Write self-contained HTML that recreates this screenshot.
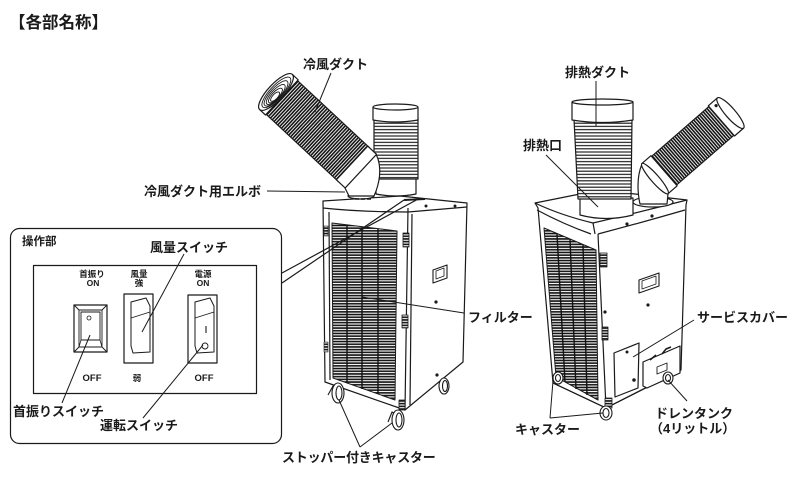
<!DOCTYPE html>
<html><head><meta charset="utf-8">
<style>
html,body{margin:0;padding:0;background:#fff;}
svg{display:block;}
text{font-family:"Liberation Sans","Noto Sans CJK JP",sans-serif;font-weight:bold;fill:#1a1a1a;}
</style></head>
<body>
<svg width="800" height="480" viewBox="0 0 800 480" xmlns="http://www.w3.org/2000/svg">
<defs>
  <pattern id="grill" width="4" height="2.7" patternUnits="userSpaceOnUse">
    <rect width="4" height="2.7" fill="#fff"/>
    <line x1="0" y1="1.35" x2="4" y2="1.35" stroke="#111" stroke-width="1.6"/>
  </pattern>
  <pattern id="hl2" width="4" height="3.2" patternUnits="userSpaceOnUse">
    <rect width="4" height="3.2" fill="#fff"/>
    <line x1="0" y1="1.6" x2="4" y2="1.6" stroke="#222" stroke-width="1.2"/>
  </pattern>
  <pattern id="rings" width="2.5" height="4" patternUnits="userSpaceOnUse">
    <rect width="2.5" height="4" fill="#fff"/>
    <line x1="1.25" y1="0" x2="1.25" y2="4" stroke="#111" stroke-width="1.6"/>
  </pattern>
</defs>

<!-- Title -->
<text x="9" y="28" font-size="16.5">【各部名称】</text>

<g fill="none" stroke="#1a1a1a" stroke-width="1.2" stroke-linejoin="round">

<!-- ================= LEFT UNIT ================= -->
<path d="M323,201 L400,196 L467,203 L463,362 L405,410 L325,382 Z" fill="#fff"/>
<path d="M323,208 Q360,212 408,212 L467,207"/>
<path d="M408,208 L405,410"/>
<path d="M329,212 L330,380"/>
<path d="M412,214 L410,405"/>
<!-- grille -->
<path d="M332,223 L397,231 L395,400 L333,378 Z" fill="url(#grill)" stroke-width="1"/>
<g stroke="#111" stroke-width="1.4">
  <line x1="347" y1="225" x2="347" y2="383"/>
  <line x1="362" y1="227" x2="362" y2="389"/>
  <line x1="378" y1="229" x2="378" y2="394"/>
</g>
<!-- side vents -->
<rect x="403" y="233" width="6" height="14" fill="url(#grill)" stroke-width="0.8"/>
<rect x="402" y="315" width="6" height="13" fill="url(#grill)" stroke-width="0.8"/>
<rect x="399" y="400" width="6" height="10" fill="url(#grill)" stroke-width="0.8"/>
<rect x="324" y="226" width="4" height="10" fill="url(#grill)" stroke-width="0.6"/>
<rect x="324" y="342" width="4" height="10" fill="url(#grill)" stroke-width="0.6"/>
<!-- handle -->
<path d="M433,270 L447,265 L447,278 L433,283 Z" stroke-width="1.1"/>
<path d="M436,271 L444,268 L444,276 L436,279 Z" stroke-width="0.8"/>
<circle cx="436" cy="302" r="1" fill="#222"/>
<circle cx="437" cy="375" r="1" fill="#222"/>
<circle cx="426" cy="206" r="0.9" fill="#222"/>
<circle cx="455" cy="206" r="0.9" fill="#222"/>
<!-- casters -->
<g stroke-width="1.1" fill="#fff">
  <path d="M328,395 L333,386 L338,392"/>
  <ellipse cx="338" cy="393" rx="6" ry="10"/>
  <ellipse cx="339" cy="393" rx="3" ry="7"/>
  <path d="M388,422 L392,412 L398,416"/>
  <ellipse cx="398" cy="420" rx="6" ry="10"/>
  <ellipse cx="399" cy="420" rx="3" ry="7"/>
  <ellipse cx="444" cy="386" rx="5" ry="8"/>
  <ellipse cx="445" cy="386" rx="2.5" ry="5.5"/>
</g>
<!-- top cap details -->
<ellipse cx="361" cy="196" rx="13" ry="3" fill="#fff"/>
<path d="M355,199 h4 M361,199 h4 M367,199 h4" stroke-width="1.6"/>
<path d="M404,200 L425,199" stroke-width="2"/>

<!-- left exhaust duct (vertical) -->
<path d="M376,178 L376,194 Q396,198 416,194 L416,178 Z" fill="#fff"/>
<rect x="374" y="118" width="44" height="61" fill="url(#hl2)"/>
<path d="M373,107 L373,120 Q395.5,124 418,120 L418,107" fill="#fff"/>
<ellipse cx="395.5" cy="107" rx="22.5" ry="3" fill="#fff"/>

<!-- left cold duct (diagonal) -->
<path d="M376,154 C383,168 379,185 374,196 L349,196 L345,188 Z" fill="#fff"/>
<g transform="translate(276,92) rotate(43)">
  <rect x="6" y="-23" width="100" height="46" fill="url(#rings)"/>
  <rect x="104" y="-23" width="12" height="46" fill="#fff"/>
  <rect x="0" y="-24" width="8" height="48" fill="#fff"/>
  <ellipse cx="0" cy="0" rx="8" ry="24" fill="#fff"/>
  <ellipse cx="0.5" cy="0" rx="6.5" ry="20" stroke-width="0.9"/>
  <ellipse cx="1" cy="1" rx="5.5" ry="16.5" stroke-width="0.9"/>
  <ellipse cx="1.5" cy="2" rx="4.5" ry="13" stroke-width="0.9"/>
  <ellipse cx="2" cy="3" rx="3.5" ry="9.5" stroke-width="0.9"/>
  <ellipse cx="2.5" cy="4" rx="2.5" ry="6" stroke-width="0.9"/>
</g>

<!-- ================= RIGHT UNIT ================= -->
<path d="M535,203 L600,190 L687,200 L686,205 L681,370 L606,408 L553,383 L538,208 Z" fill="#fff"/>
<path d="M535,203 Q560,215 593,223 Q640,212 687,200"/>
<path d="M537,210 Q563,224 591,234"/>
<path d="M598,234 Q640,223 685,210"/>
<path d="M593,223 L595,234"/>
<path d="M598,234 L606,408"/>
<path d="M553,383 L606,408 L681,370"/>
<!-- grille -->
<path d="M544,228 L596,250 L598,400 L556,377 Z" fill="url(#grill)" stroke-width="1"/>
<g stroke="#111" stroke-width="1.4">
  <line x1="557" y1="234" x2="565" y2="382"/>
  <line x1="570" y1="239" x2="576" y2="389"/>
  <line x1="583" y1="245" x2="587" y2="395"/>
</g>
<!-- corner vents -->
<rect x="600" y="253" width="7" height="14" fill="url(#grill)" stroke-width="0.8"/>
<rect x="602" y="327" width="6" height="13" fill="url(#grill)" stroke-width="0.8"/>
<rect x="605" y="398" width="7" height="10" fill="url(#grill)" stroke-width="0.8"/>
<!-- handle -->
<path d="M639,280 L659,273 L659,286 L639,293 Z" stroke-width="1.1"/>
<path d="M642,281 L656,276 L656,284 L642,289 Z" stroke-width="0.8"/>
<circle cx="648" cy="305" r="1" fill="#222"/>
<circle cx="627" cy="224" r="1" fill="#222"/>
<circle cx="652" cy="216" r="1" fill="#222"/>
<circle cx="605" cy="312" r="1" fill="#222"/>
<!-- service cover -->
<path d="M614,353 L639,343 L638,388 L615,397 Z" fill="#fff"/>
<circle cx="627" cy="352" r="0.9" fill="#222"/>
<circle cx="634" cy="380" r="1.2" fill="#222"/>
<!-- drain tank -->
<path d="M643,362 L680,346 L680,373 L647,388 L643,386 Z" fill="#fff"/>
<path d="M657,367 L667,363 L667,370 L657,374 Z" stroke-width="0.9"/>
<path d="M650,360 L656,355 M662,354 L666,349 L671,347" stroke-width="1.5"/>
<!-- casters -->
<g stroke-width="1.1" fill="#fff">
  <ellipse cx="558" cy="378" rx="5" ry="6"/>
  <ellipse cx="558" cy="378" rx="2.5" ry="3.5"/>
  <ellipse cx="606" cy="413" rx="6" ry="7"/>
  <ellipse cx="606" cy="413" rx="3" ry="4.5"/>
  <ellipse cx="668" cy="378" rx="5" ry="6"/>
  <ellipse cx="668" cy="378" rx="2.5" ry="3.5"/>
</g>

<!-- right exhaust duct -->
<path d="M580,198 L580,215 Q606,222 633,215 L633,198 Z" fill="#fff"/>
<path d="M574,119 L632,119 L631,199 L578,199 Z" fill="url(#hl2)"/>
<path d="M572,102 L572,120 Q602.5,125 633,120 L633,102" fill="#fff"/>
<ellipse cx="602.5" cy="102" rx="30.5" ry="3" fill="#fff"/>

<!-- right cold duct -->
<ellipse cx="653" cy="202" rx="20" ry="5" fill="#fff"/>
<path d="M642,164 C636,178 638,195 640,204 L667,204 L668,194 Z" fill="#fff"/>
<g transform="translate(658,176) rotate(-41)">
  <rect x="8" y="-19" width="78" height="38" fill="url(#rings)"/>
  <rect x="-4" y="-20" width="12" height="40" fill="#fff"/>
  <ellipse cx="-4" cy="0" rx="4" ry="20" fill="#fff"/>
  <rect x="84" y="-20" width="12" height="40" fill="#fff"/>
  <ellipse cx="96" cy="0" rx="5" ry="20" fill="#fff"/>
  <circle cx="90" cy="-15" r="1" fill="#222"/>
</g>

<!-- ================= CONTROL PANEL CALLOUT ================= -->
<rect x="10.5" y="228.5" width="271" height="215" rx="9" fill="#fff"/>
<line x1="282" y1="283" x2="404" y2="200"/>
<line x1="282" y1="273" x2="420" y2="198"/>
<rect x="33.5" y="265.5" width="223" height="128"/>
<!-- switch 1 -->
<rect x="74" y="305" width="33" height="47"/>
<rect x="79" y="310" width="23" height="37" stroke-width="0.9"/>
<path d="M74,305 L79,310 M107,305 L102,310 M74,352 L79,347 M107,352 L102,347" stroke-width="0.9"/>
<rect x="81" y="312" width="19" height="28" stroke-width="0.9"/>
<path d="M81,340 L79,347 M100,340 L102,347" stroke-width="0.8"/>
<circle cx="89" cy="318" r="2" stroke-width="0.8"/>
<!-- switch 2 -->
<rect x="124" y="294" width="29" height="69"/>
<path d="M131,302 L146,298 L150,306 L150,352 L133,353 L131,346 Z" stroke-width="1"/>
<path d="M131,318 L150,312" stroke-width="0.9"/>
<!-- switch 3 -->
<rect x="188" y="295" width="29" height="68"/>
<path d="M195,302 L210,298 L214,306 L214,352 L197,353 L195,346 Z" stroke-width="1"/>
<path d="M195,318 L214,312" stroke-width="0.9"/>
<line x1="206" y1="326" x2="206" y2="333" stroke-width="1.1"/>
<circle cx="205" cy="346" r="3" stroke-width="0.9"/>

<!-- leader lines -->
<g stroke-width="1">
  <line x1="184" y1="254" x2="142" y2="332"/>
  <line x1="90" y1="335" x2="62" y2="403"/>
  <line x1="203" y1="345" x2="143" y2="418"/>
  <line x1="331" y1="73" x2="315" y2="112"/>
  <line x1="267" y1="191" x2="345" y2="192"/>
  <line x1="362" y1="297" x2="464" y2="313"/>
  <line x1="360" y1="447" x2="339" y2="400"/>
  <line x1="360" y1="447" x2="392" y2="423"/>
  <line x1="596" y1="81" x2="596" y2="126"/>
  <line x1="546" y1="155" x2="598" y2="207"/>
  <line x1="694" y1="320" x2="633" y2="357"/>
  <line x1="687" y1="401" x2="668" y2="380"/>
  <line x1="550" y1="418" x2="553" y2="381"/>
  <line x1="550" y1="418" x2="603" y2="413"/>
</g>
</g>

<!-- panel small labels -->
<g font-size="8.5" text-anchor="middle">
  <text x="92" y="277">首振り</text>
  <text x="93" y="286">ON</text>
  <text x="139" y="277">風量</text>
  <text x="139" y="286">強</text>
  <text x="203" y="277">電源</text>
  <text x="203" y="286">ON</text>
  <text x="92" y="381" font-size="9.5">OFF</text>
  <text x="137" y="381">弱</text>
  <text x="204" y="381" font-size="9.5">OFF</text>
</g>

<!-- labels -->
<g font-size="13">
  <text x="22" y="245" font-size="11.5">操作部</text>
  <text x="150" y="252">風量スイッチ</text>
  <text x="13" y="416">首振りスイッチ</text>
  <text x="100" y="430">運転スイッチ</text>
  <text x="303" y="69">冷風ダクト</text>
  <text x="144" y="196">冷風ダクト用エルボ</text>
  <text x="468" y="322">フィルター</text>
  <text x="282" y="462" letter-spacing="-0.2">ストッパー付きキャスター</text>
  <text x="565" y="77">排熱ダクト</text>
  <text x="523" y="150">排熱口</text>
  <text x="697" y="322">サービスカバー</text>
  <text x="655" y="418">ドレンタンク</text>
  <text x="650" y="433">（4リットル）</text>
  <text x="515" y="434">キャスター</text>
</g>
</svg>
</body></html>
